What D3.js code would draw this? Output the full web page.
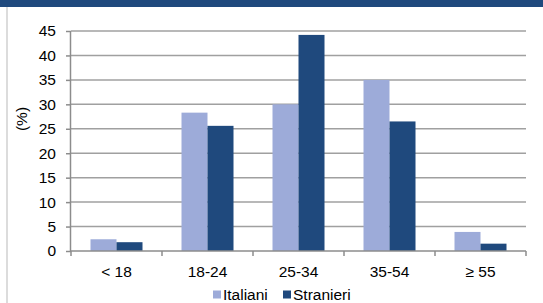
<!DOCTYPE html>
<html>
<head>
<script src="https://cdn.jsdelivr.net/npm/d3@7/dist/d3.min.js"></script>
<style>
  body { margin: 0; background: #fff; }
  text { font-family: "Liberation Sans", Arial, sans-serif; fill: #000; }
</style>
</head>
<body>
<svg width="543" height="303"></svg>
<script>

const categories = ['< 18', '18-24', '25-34', '35-54', '\u2265 55'];
const series = ['Italiani', 'Stranieri'];
const italiani = [2.4, 28.3, 30.0, 35.0, 3.9];
const stranieri = [1.8, 25.6, 44.2, 26.5, 1.5];
const yTicks = [0, 5, 10, 15, 20, 25, 30, 35, 40, 45];
const colors = ['#9dabd9', '#1f497d'];

const svg = d3.select('svg');
const fs = '15.5px';

// frame: top band and left border
svg.append('rect').attr('x', 0).attr('y', 0).attr('width', 543).attr('height', 7).style('fill', '#1f497d');
svg.append('rect').attr('x', 6).attr('y', 7).attr('width', 2).attr('height', 296).style('fill', '#dcdcdc');

const pLeft = 71, pRight = 526, pTop = 31, pBottom = 251;

let x = d3.scaleBand().domain(categories).range([pLeft, pRight]);
let xs = d3.scaleBand().domain(series).range([0, 52]);
let y = d3.scaleLinear().domain([0, 45]).range([pBottom, pTop]);

// gridlines
svg.append('g').selectAll('line').data(yTicks.filter(d => d > 0)).join('line')
  .attr('x1', pLeft).attr('x2', pRight)
  .attr('y1', d => y(d)).attr('y2', d => y(d))
  .style('stroke', '#a0a0a0').style('stroke-width', 1.5);

// bars
let data = [];
categories.forEach((c, i) => {
  data.push({ c: c, s: 'Italiani', v: italiani[i] });
  data.push({ c: c, s: 'Stranieri', v: stranieri[i] });
});

svg.append('g').selectAll('rect').data(data).join('rect')
  .attr('x', d => x(d.c) + (x.bandwidth() - 52) / 2 + xs(d.s))
  .attr('width', xs.bandwidth())
  .attr('y', d => y(d.v))
  .attr('height', d => pBottom - y(d.v))
  .style('fill', d => d.s === 'Italiani' ? colors[0] : colors[1]);

// y axis
let yAxis = svg.append('g').attr('transform', 'translate(' + pLeft + ',0)')
  .call(d3.axisLeft(y).tickValues(yTicks).tickSize(5).tickPadding(10));
yAxis.select('.domain').style('stroke', '#8c8c8c').style('stroke-width', 1.5).attr('d', 'M-0.5,' + pTop + 'V' + pBottom);
yAxis.selectAll('.tick line').style('stroke', '#8c8c8c').style('stroke-width', 1.5);
yAxis.selectAll('.tick text').style('font-size', fs).style('font-family', '"Liberation Sans", Arial, sans-serif').attr('fill', '#000');

// x axis
let xAxis = svg.append('g').attr('transform', 'translate(0,' + pBottom + ')')
  .call(d3.axisBottom(x).tickSize(0).tickPadding(15));
xAxis.select('.domain').style('stroke', '#8c8c8c').style('stroke-width', 1.5).attr('d', 'M' + pLeft + ',0H' + pRight);
xAxis.selectAll('.tick text').style('font-size', fs).style('font-family', '"Liberation Sans", Arial, sans-serif').attr('fill', '#000');

// category separators
svg.append('g').selectAll('line').data(categories.concat(['end'])).join('line')
  .attr('x1', (d, i) => pLeft + i * x.step()).attr('x2', (d, i) => pLeft + i * x.step())
  .attr('y1', pBottom).attr('y2', pBottom + 5)
  .style('stroke', '#8c8c8c').style('stroke-width', 1.5);

// y title
svg.append('text').attr('transform', 'translate(27,' + 119 + ') rotate(-90)')
  .attr('text-anchor', 'middle').style('font-size', fs).text('(%)');

// legend
let legendX = [213, 283];
let lg = svg.append('g');
series.forEach((s, i) => {
  lg.append('rect').attr('x', legendX[i]).attr('y', 290.5).attr('width', 8).attr('height', 8).style('fill', colors[i]);
  lg.append('text').attr('x', legendX[i] + 10).attr('y', 300).style('font-size', fs).text(s);
});

</script>
</body>
</html>
